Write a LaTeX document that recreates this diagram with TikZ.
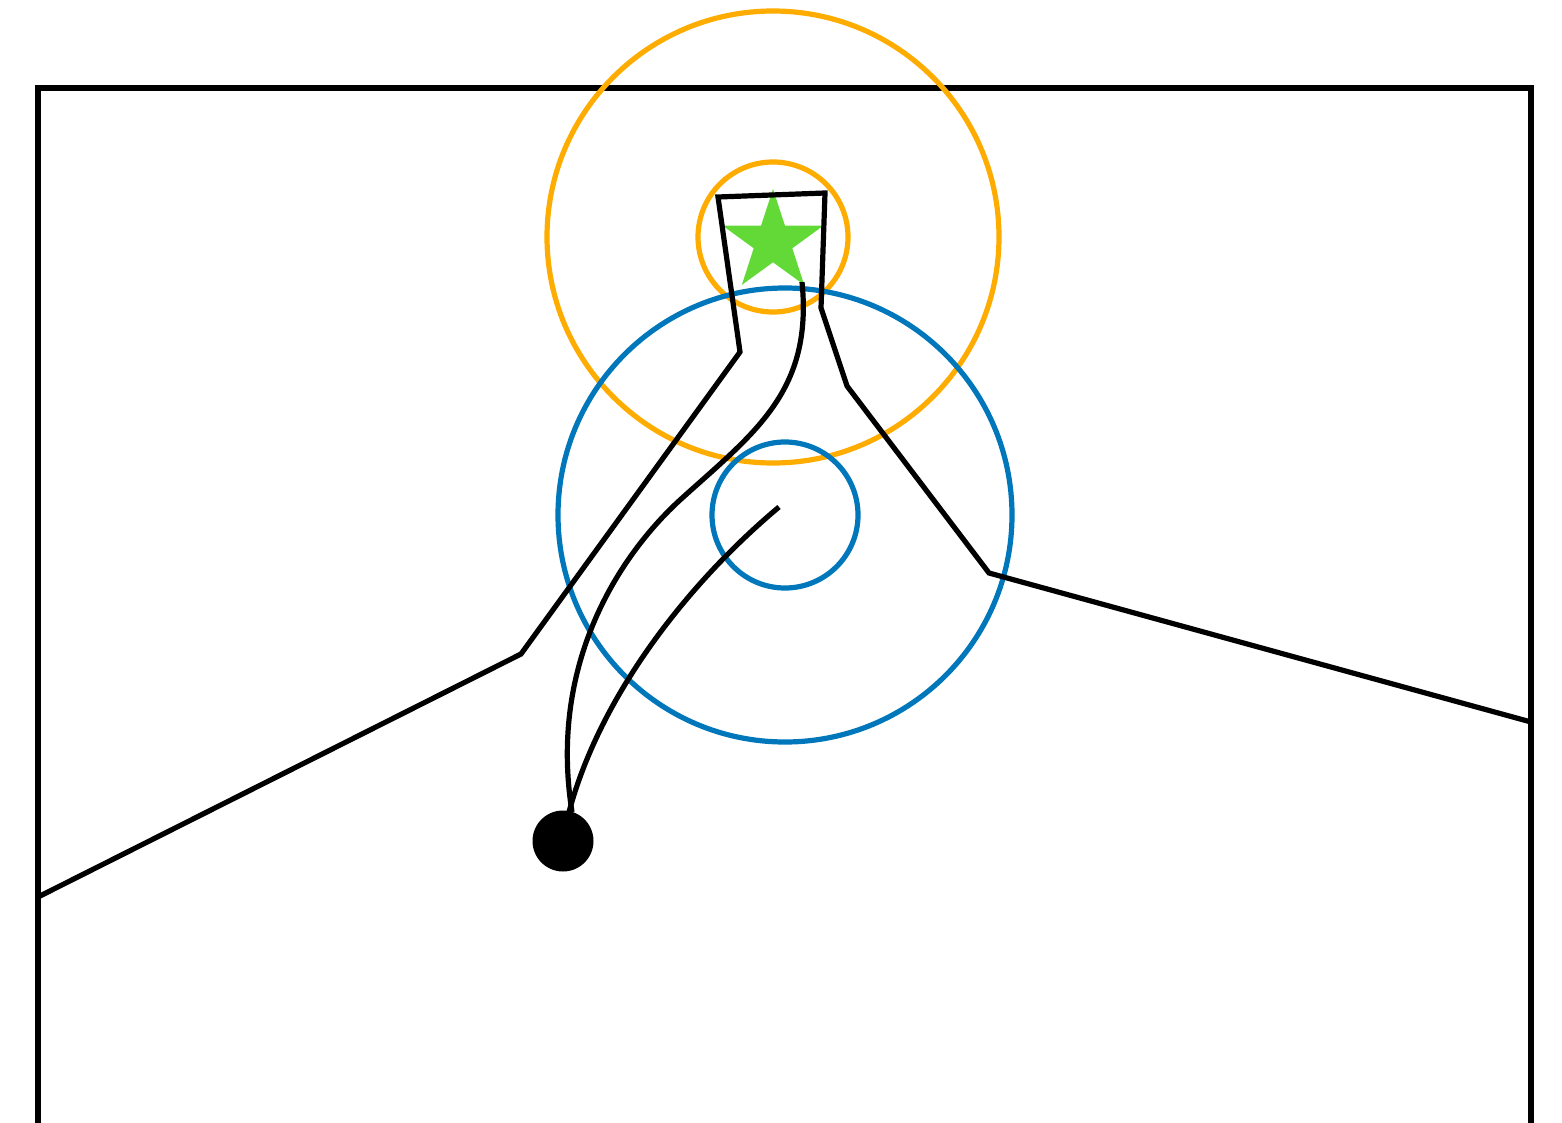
\documentclass[tikz,border=0pt]{standalone}
\usetikzlibrary{calc}
\definecolor{orng}{RGB}{255,172,0}
\definecolor{blu}{RGB}{0,119,187}
\definecolor{grn}{RGB}{98,217,54}
\tikzset{
  frame/.style={draw=black, line width=5.4pt},
  blk/.style={draw=black, line width=5.2pt, line join=miter},
  orc/.style={draw=orng, line width=5.2pt},
  blc/.style={draw=blu, line width=5.2pt},
  curv/.style={draw=black, line width=5.2pt},
}
\begin{document}
\begin{tikzpicture}[x=1pt,y=-1pt]
\useasboundingbox (0,0) rectangle (1562,1123);
% frame
\draw[frame] (38,1130) -- (38,88) -- (1531,88) -- (1531,1130);
% circles
\draw[orc] (773,237) circle (226);
\draw[orc] (773,237) circle (75);
\draw[blc] (785,515) circle (227);
\draw[blc] (785,515) circle (73);
% star
\coordinate (sc) at (773,242);
\fill[grn] ($(sc)+(270:53)$)
  \foreach \k in {0,...,4} {
    -- ($(sc)+(306+72*\k:20.3)$) -- ($(sc)+(342+72*\k:53)$)
  } -- cycle;
% polyline
\draw[blk] (38,897) -- (521,654) -- (740,352) -- (718,197) -- (825,193)
  -- (821,308) -- (847,386) -- (989,573) -- (1531,722);
% dot
\node[circle, fill=black, inner sep=0pt, minimum size=61pt] (dot) at (563,841) {};
\coordinate (c1s) at (802,282);
\coordinate (c1m) at (680,500);
\coordinate (c1e) at (572,812);
\coordinate (c2s) at (779,507);
\coordinate (c2e) at (569,812);
% curve 1
\draw[curv] (c1s) .. controls (813,392) and (754,433) .. (c1m)
  .. controls (621,554) and (548,662) .. (c1e);
% curve 2
\draw[curv] (c2s) .. controls (687,584) and (600,696) .. (c2e);
\end{tikzpicture}
\end{document}
